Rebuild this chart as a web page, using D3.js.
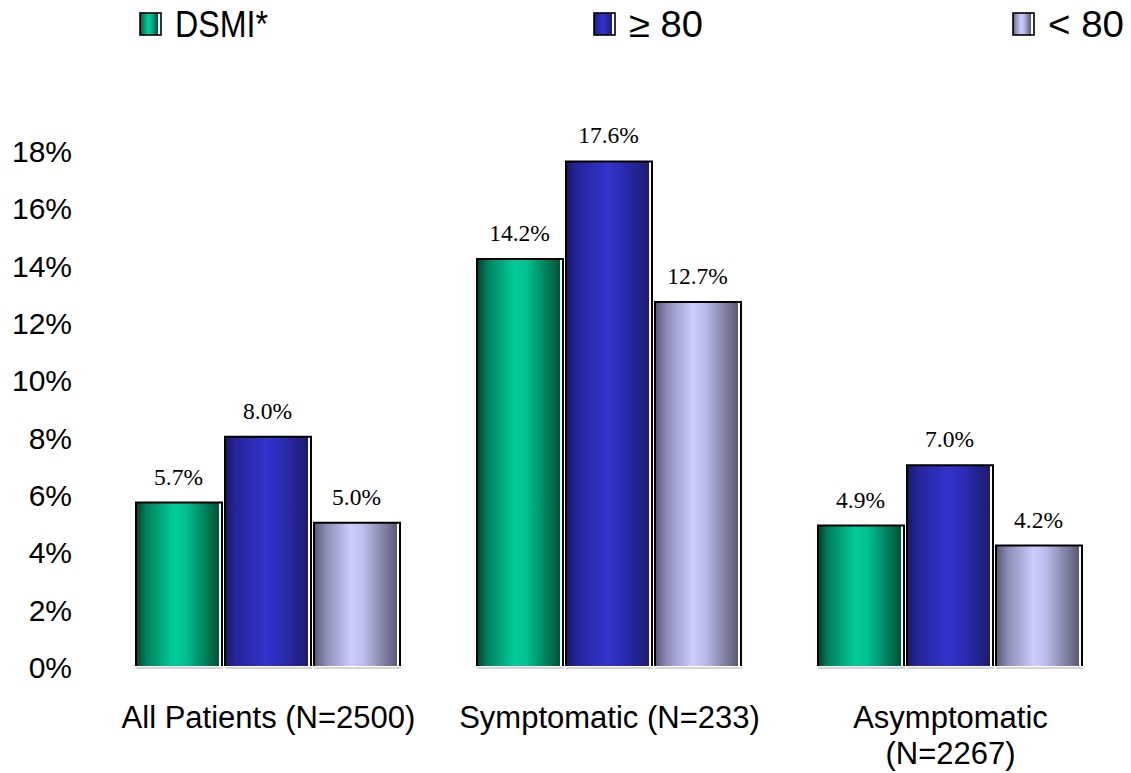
<!DOCTYPE html>
<html>
<head>
<meta charset="utf-8">
<script src="https://cdn.jsdelivr.net/npm/d3@7"></script>
<style>
  html, body { margin: 0; padding: 0; background: #ffffff; }
  svg { display: block; }
</style>
</head>
<body>
<svg id="chart" width="1131" height="773"></svg>
<script>
// Groups along the x axis (second line of a label is split on "\n")
const categories = ["All Patients (N=2500)", "Symptomatic (N=233)", "Asymptomatic\n(N=2267)"];
const seriesNames = ["DSMI*", "\u2265 80", "< 80"];
// Percent values per series, one per category
const dsmiValues = [5.7, 14.2, 4.9];
const over80Values = [8.0, 17.6, 7.0];
const under80Values = [5.0, 12.7, 4.2];
const valueLabels = [
  ["5.7%", "14.2%", "4.9%"],
  ["8.0%", "17.6%", "7.0%"],
  ["5.0%", "12.7%", "4.2%"]
];
const yTicks = [0, 2, 4, 6, 8, 10, 12, 14, 16, 18];

const seriesValues = [dsmiValues, over80Values, under80Values];

// Cylinder-like horizontal shading for each series
const gradients = [
  [[0, "#003f2b"], [0.12, "#00805c"], [0.45, "#00cc99"], [0.6, "#00c090"], [1, "#005236"]],
  [[0, "#181860"], [0.12, "#24249a"], [0.5, "#3333cc"], [0.65, "#2d2dba"], [1, "#1c1c6e"]],
  [[0, "#56567a"], [0.15, "#8e8eb8"], [0.45, "#ccccff"], [0.6, "#bcbcec"], [1, "#5a5a76"]]
];

const svg = d3.select("#chart");
const defs = svg.append("defs");
gradients.forEach((stops, i) => {
  const g = defs.append("linearGradient")
    .attr("id", "grad" + i)
    .attr("x1", "0%").attr("x2", "100%")
    .attr("y1", "0%").attr("y2", "0%");
  stops.forEach(([o, c]) => g.append("stop").attr("offset", o).attr("stop-color", c));
});

const x0 = d3.scaleBand()
  .domain(d3.range(categories.length))
  .range([98, 1121])
  .paddingInner(0.217)
  .paddingOuter(0.1085);

const x1 = d3.scaleBand()
  .domain(d3.range(seriesNames.length))
  .range([0, x0.bandwidth()]);

const y = d3.scaleLinear().domain([0, 18]).range([666, 150]);

// Y axis labels only (no line, no ticks)
const yAxis = d3.axisLeft(y)
  .tickValues(yTicks)
  .tickSize(0)
  .tickPadding(0)
  .tickFormat(d => d + "%");

const yG = svg.append("g")
  .attr("transform", "translate(72,2)")
  .call(yAxis);
yG.select(".domain").remove();
yG.selectAll("text")
  .attr("font-family", "'Liberation Sans', Arial, sans-serif")
  .attr("font-size", 30)
  .attr("fill", "#000");

// Bars
const shadow = 3;
const gap = 3;
const barsG = svg.append("g");
categories.forEach((cat, ci) => {
  seriesNames.forEach((name, si) => {
    const v = seriesValues[si][ci];
    const left = x0(ci) + x1(si) + 1;
    const w = x1.bandwidth() - gap - shadow;
    const top = y(v);
    const bottom = y(0);

    // floor line under the bar
    barsG.append("line")
      .attr("x1", left).attr("x2", left + w + shadow + 1)
      .attr("y1", bottom + 2).attr("y2", bottom + 2)
      .attr("stroke", "#c8c8c8").attr("stroke-width", 1.5);

    // filled body
    barsG.append("rect")
      .attr("x", left).attr("y", top)
      .attr("width", w).attr("height", bottom - top)
      .attr("fill", `url(#grad${si})`);

    // outline: left, top and offset right edge
    const p = d3.path();
    p.moveTo(left, bottom);
    p.lineTo(left, top);
    p.lineTo(left + w + shadow, top);
    p.lineTo(left + w + shadow, bottom);
    barsG.append("path")
      .attr("d", p.toString())
      .attr("fill", "none")
      .attr("stroke", "#000")
      .attr("stroke-width", 2);

    // value label
    barsG.append("text")
      .attr("x", left + w / 2 + 1)
      .attr("y", top - 18)
      .attr("text-anchor", "middle")
      .attr("font-family", "'Liberation Serif', 'Times New Roman', serif")
      .attr("font-size", 23.5)
      .attr("fill", "#000")
      .text(valueLabels[si][ci]);
  });
});

// Category labels
categories.forEach((cat, ci) => {
  const cx = x0(ci) + x0.bandwidth() / 2;
  const lines = cat.split("\n");
  const t = svg.append("text")
    .attr("text-anchor", "middle")
    .attr("font-family", "'Liberation Sans', Arial, sans-serif")
    .attr("font-size", 31)
    .attr("fill", "#000");
  lines.forEach((ln, li) => {
    t.append("tspan")
      .attr("x", cx)
      .attr("y", 728 + li * 36)
      .text(ln);
  });
});

// Legend
const legendX = [140, 594, 1013];
const legendTextWidth = [93, 74, 76];
seriesNames.forEach((name, si) => {
  const lx = legendX[si];
  const g = svg.append("g");
  g.append("rect")
    .attr("x", lx).attr("y", 13)
    .attr("width", 18).attr("height", 22)
    .attr("fill", `url(#grad${si})`);
  g.append("rect")
    .attr("x", lx).attr("y", 13)
    .attr("width", 21).attr("height", 22)
    .attr("fill", "none")
    .attr("stroke", "#000")
    .attr("stroke-width", 1.6);
  g.append("text")
    .attr("x", lx + 35)
    .attr("y", 37)
    .attr("font-family", "'Liberation Sans', Arial, sans-serif")
    .attr("font-size", 36)
    .attr("textLength", legendTextWidth[si])
    .attr("lengthAdjust", "spacingAndGlyphs")
    .attr("fill", "#000")
    .text(name);
});
</script>
</body>
</html>
